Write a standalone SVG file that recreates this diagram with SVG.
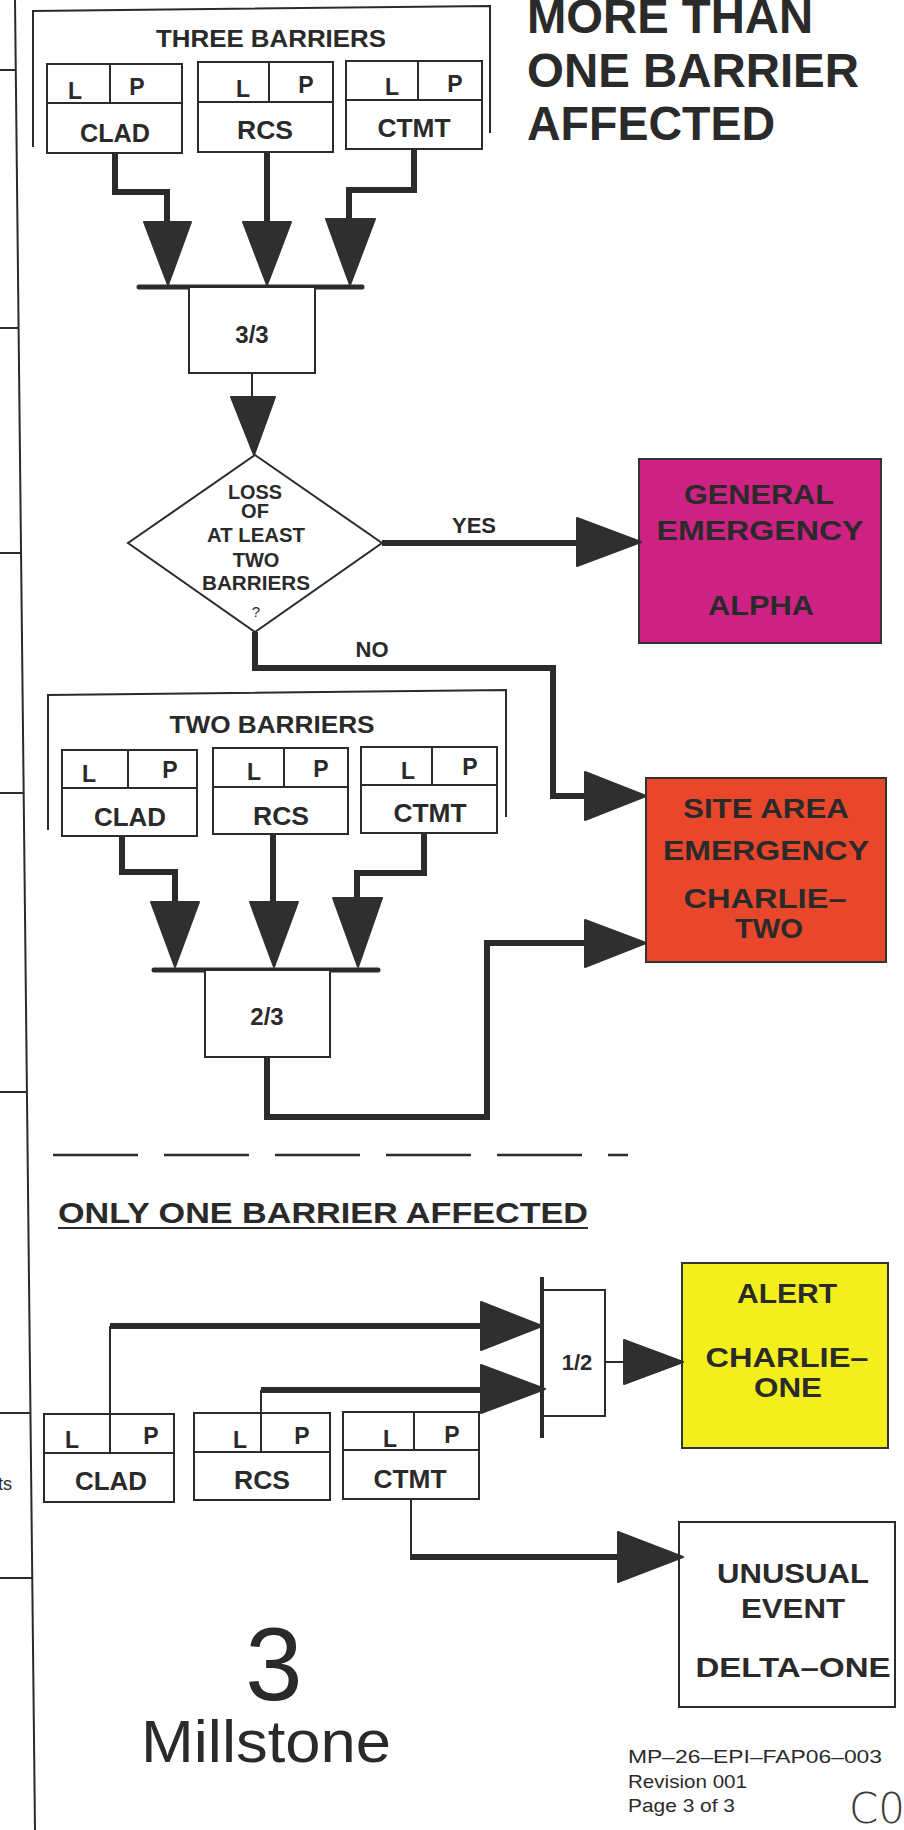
<svg xmlns="http://www.w3.org/2000/svg" width="904" height="1830" viewBox="0 0 904 1830">
<style>
.bg{fill:#ffffff}
.box{fill:#ffffff;stroke:#2b2b2b;stroke-width:2}
.ln{fill:none;stroke:#2b2b2b;stroke-width:2}
.thk{fill:none;stroke:#2b2b2b;stroke-width:6;stroke-linejoin:miter}
.bus{fill:none;stroke:#2b2b2b;stroke-width:5;stroke-linecap:round}
.ah{fill:#2f2f2f;stroke:#2f2f2f;stroke-width:2;stroke-linejoin:round}
.t{font-family:"Liberation Sans",Arial,sans-serif;font-weight:bold;fill:#2a2a2a;text-anchor:middle}
.r{font-family:"Liberation Sans",Arial,sans-serif;font-weight:normal;fill:#2a2a2a}
.ge{fill:#CD2283;stroke:#333;stroke-width:2}
.sae{fill:#E8472B;stroke:#333;stroke-width:2}
.al{fill:#F3EF1C;stroke:#333;stroke-width:2}
</style>
<rect class="bg" x="0" y="0" width="904" height="1830"/>

<g id="frame">
<line class="ln" x1="15" y1="0" x2="35" y2="1830"/>
<line class="ln" x1="0" y1="70" x2="16" y2="70"/>
<line class="ln" x1="0" y1="328" x2="19" y2="328"/>
<line class="ln" x1="0" y1="553" x2="21" y2="553"/>
<line class="ln" x1="0" y1="793" x2="24" y2="793"/>
<line class="ln" x1="0" y1="1092" x2="27" y2="1092"/>
<line class="ln" x1="0" y1="1413" x2="30" y2="1413"/>
<line class="ln" x1="0" y1="1578" x2="32" y2="1578"/>
<text class="r" x="-2" y="1490" font-size="18">ts</text>
</g>

<g id="title">
<text class="t" x="527" y="33" font-size="48" style="text-anchor:start" textLength="286" lengthAdjust="spacingAndGlyphs">MORE THAN</text>
<text class="t" x="527" y="87" font-size="48" style="text-anchor:start" textLength="332" lengthAdjust="spacingAndGlyphs">ONE BARRIER</text>
<text class="t" x="527" y="140" font-size="48" style="text-anchor:start" textLength="248" lengthAdjust="spacingAndGlyphs">AFFECTED</text>
</g>

<g id="three-barriers">
<polyline class="ln" points="33,147 33,11 490,6 490,133"/>
<text class="t" x="271" y="47" font-size="23" textLength="230" lengthAdjust="spacingAndGlyphs">THREE BARRIERS</text>
</g>
<g id="tb-clad">
<rect class="box" x="47" y="64" width="135" height="89"/>
<line class="ln" x1="47" y1="103" x2="182" y2="103"/>
<line class="ln" x1="110" y1="64" x2="110" y2="103"/>
<text class="t" x="75" y="99" font-size="23">L</text>
<text class="t" x="137" y="95" font-size="23">P</text>
<text class="t" x="115" y="142" font-size="25" textLength="70" lengthAdjust="spacingAndGlyphs">CLAD</text>
</g>
<g id="tb-rcs">
<rect class="box" x="198" y="62" width="135" height="90"/>
<line class="ln" x1="198" y1="102" x2="333" y2="102"/>
<line class="ln" x1="269" y1="62" x2="269" y2="102"/>
<text class="t" x="243" y="97" font-size="23">L</text>
<text class="t" x="306" y="93" font-size="23">P</text>
<text class="t" x="265" y="139" font-size="25" textLength="56" lengthAdjust="spacingAndGlyphs">RCS</text>
</g>
<g id="tb-ctmt">
<rect class="box" x="346" y="61" width="136" height="88"/>
<line class="ln" x1="346" y1="100" x2="482" y2="100"/>
<line class="ln" x1="418" y1="61" x2="418" y2="100"/>
<text class="t" x="392" y="95" font-size="23">L</text>
<text class="t" x="455" y="92" font-size="23">P</text>
<text class="t" x="414" y="137" font-size="25" textLength="73" lengthAdjust="spacingAndGlyphs">CTMT</text>
</g>
<g id="gate-33">
<line class="bus" x1="139" y1="287" x2="362" y2="287"/>
<rect class="box" x="189" y="287" width="126" height="86"/>
<text class="t" x="252" y="343" font-size="24">3/3</text>
</g>
<g id="decision">
<polygon class="box" points="255,455 382,543 255,632 128,543"/>
<text class="t" x="255" y="499" font-size="20" textLength="54" lengthAdjust="spacingAndGlyphs">LOSS</text>
<text class="t" x="255" y="518" font-size="20">OF</text>
<text class="t" x="256" y="542" font-size="20" textLength="98" lengthAdjust="spacingAndGlyphs">AT LEAST</text>
<text class="t" x="256" y="567" font-size="20">TWO</text>
<text class="t" x="256" y="590" font-size="20" textLength="108" lengthAdjust="spacingAndGlyphs">BARRIERS</text>
<text class="r" x="256" y="617" font-size="15" style="text-anchor:middle">?</text>
</g>
<g id="general-emergency">
<rect class="ge" x="639" y="459" width="242" height="184"/>
<text class="t" x="759" y="504" font-size="27" textLength="150" lengthAdjust="spacingAndGlyphs">GENERAL</text>
<text class="t" x="760" y="540" font-size="27" textLength="207" lengthAdjust="spacingAndGlyphs">EMERGENCY</text>
<text class="t" x="761" y="615" font-size="27" textLength="106" lengthAdjust="spacingAndGlyphs">ALPHA</text>
</g>
<g id="site-area-emergency">
<rect class="sae" x="646" y="778" width="240" height="184"/>
<text class="t" x="766" y="818" font-size="27" textLength="166" lengthAdjust="spacingAndGlyphs">SITE AREA</text>
<text class="t" x="766" y="860" font-size="27" textLength="206" lengthAdjust="spacingAndGlyphs">EMERGENCY</text>
<text class="t" x="765" y="908" font-size="27" textLength="163" lengthAdjust="spacingAndGlyphs">CHARLIE–</text>
<text class="t" x="769" y="938" font-size="27" textLength="68" lengthAdjust="spacingAndGlyphs">TWO</text>
</g>

<g id="two-barriers">
<polyline class="ln" points="48,830 48,695 506,690 506,817"/>
<text class="t" x="272" y="733" font-size="24" textLength="205" lengthAdjust="spacingAndGlyphs">TWO BARRIERS</text>
</g>
<g id="2b-clad">
<rect class="box" x="62" y="750" width="135" height="86"/>
<line class="ln" x1="62" y1="788" x2="197" y2="788"/>
<line class="ln" x1="128" y1="750" x2="128" y2="788"/>
<text class="t" x="89" y="782" font-size="23">L</text>
<text class="t" x="170" y="778" font-size="23">P</text>
<text class="t" x="130" y="826" font-size="25" textLength="72" lengthAdjust="spacingAndGlyphs">CLAD</text>
</g>
<g id="2b-rcs">
<rect class="box" x="213" y="748" width="135" height="86"/>
<line class="ln" x1="213" y1="787" x2="348" y2="787"/>
<line class="ln" x1="284" y1="748" x2="284" y2="787"/>
<text class="t" x="254" y="780" font-size="23">L</text>
<text class="t" x="321" y="777" font-size="23">P</text>
<text class="t" x="281" y="825" font-size="25" textLength="56" lengthAdjust="spacingAndGlyphs">RCS</text>
</g>
<g id="2b-ctmt">
<rect class="box" x="361" y="747" width="136" height="86"/>
<line class="ln" x1="361" y1="785" x2="497" y2="785"/>
<line class="ln" x1="432" y1="747" x2="432" y2="785"/>
<text class="t" x="408" y="779" font-size="23">L</text>
<text class="t" x="470" y="775" font-size="23">P</text>
<text class="t" x="430" y="822" font-size="25" textLength="73" lengthAdjust="spacingAndGlyphs">CTMT</text>
</g>
<g id="gate-23">
<line class="bus" x1="154" y1="970" x2="378" y2="970"/>
<rect class="box" x="205" y="970" width="125" height="87"/>
<text class="t" x="267" y="1025" font-size="24">2/3</text>
</g>

<g id="separator">
<line x1="53" y1="1155" x2="628" y2="1155" stroke="#2b2b2b" stroke-width="2.5" stroke-dasharray="85 26"/>
</g>
<g id="one-barrier-heading">
<text class="t" x="58" y="1223" font-size="30" style="text-anchor:start" textLength="530" lengthAdjust="spacingAndGlyphs">ONLY ONE BARRIER AFFECTED</text>
<line class="ln" x1="58" y1="1228" x2="588" y2="1228"/>
</g>
<g id="gate-12">
<line x1="542" y1="1277" x2="542" y2="1438" stroke="#2b2b2b" stroke-width="4"/>
<polyline class="ln" points="542,1290 605,1290 605,1416 542,1416"/>
<text class="t" x="577" y="1370" font-size="22">1/2</text>
</g>
<g id="alert">
<rect class="al" x="682" y="1263" width="206" height="185"/>
<text class="t" x="787" y="1303" font-size="27" textLength="100" lengthAdjust="spacingAndGlyphs">ALERT</text>
<text class="t" x="787" y="1367" font-size="27" textLength="163" lengthAdjust="spacingAndGlyphs">CHARLIE–</text>
<text class="t" x="788" y="1397" font-size="27" textLength="68" lengthAdjust="spacingAndGlyphs">ONE</text>
</g>
<g id="ob-clad">
<rect class="box" x="44" y="1414" width="130" height="88"/>
<line class="ln" x1="44" y1="1453" x2="174" y2="1453"/>
<line class="ln" x1="110" y1="1414" x2="110" y2="1453"/>
<text class="t" x="72" y="1448" font-size="23">L</text>
<text class="t" x="151" y="1444" font-size="23">P</text>
<text class="t" x="111" y="1490" font-size="25" textLength="72" lengthAdjust="spacingAndGlyphs">CLAD</text>
</g>
<g id="ob-rcs">
<rect class="box" x="194" y="1413" width="136" height="87"/>
<line class="ln" x1="194" y1="1452" x2="330" y2="1452"/>
<line class="ln" x1="261" y1="1413" x2="261" y2="1452"/>
<text class="t" x="240" y="1448" font-size="23">L</text>
<text class="t" x="302" y="1444" font-size="23">P</text>
<text class="t" x="262" y="1489" font-size="25" textLength="56" lengthAdjust="spacingAndGlyphs">RCS</text>
</g>
<g id="ob-ctmt">
<rect class="box" x="343" y="1412" width="136" height="87"/>
<line class="ln" x1="343" y1="1450" x2="479" y2="1450"/>
<line class="ln" x1="414" y1="1412" x2="414" y2="1450"/>
<text class="t" x="390" y="1447" font-size="23">L</text>
<text class="t" x="452" y="1443" font-size="23">P</text>
<text class="t" x="410" y="1488" font-size="25" textLength="73" lengthAdjust="spacingAndGlyphs">CTMT</text>
</g>
<g id="unusual-event">
<rect class="box" x="679" y="1522" width="216" height="185"/>
<text class="t" x="793" y="1583" font-size="27" textLength="152" lengthAdjust="spacingAndGlyphs">UNUSUAL</text>
<text class="t" x="793" y="1618" font-size="27" textLength="104" lengthAdjust="spacingAndGlyphs">EVENT</text>
<text class="t" x="793" y="1677" font-size="27" textLength="195" lengthAdjust="spacingAndGlyphs">DELTA–ONE</text>
</g>

<g id="connectors">
<path class="thk" d="M115,153 V192 H167 V226"/>
<path class="thk" d="M267,152 V226"/>
<path class="thk" d="M414,149 V190 H349 V222"/>
<polygon class="ah" points="144,222 191,222 168,285"/>
<polygon class="ah" points="243,222 291,222 267,285"/>
<polygon class="ah" points="326,219 375,219 350,285"/>
<line class="ln" x1="252" y1="373" x2="252" y2="400"/>
<polygon class="ah" points="231,397 275,397 254,455"/>
<path class="thk" d="M382,543 H580"/>
<polygon class="ah" points="577,518 577,566 641,542"/>
<text class="t" x="474" y="533" font-size="22">YES</text>
<path class="thk" d="M255,632 V668 H553 V796 H588"/>
<polygon class="ah" points="585,772 585,820 646,796"/>
<text class="t" x="372" y="657" font-size="22">NO</text>
<path class="thk" d="M122,836 V872 H175 V905"/>
<path class="thk" d="M273,834 V905"/>
<path class="thk" d="M424,833 V873 H357 V901"/>
<polygon class="ah" points="151,902 199,902 175,967"/>
<polygon class="ah" points="250,902 298,902 274,967"/>
<polygon class="ah" points="333,898 382,898 358,967"/>
<path class="thk" d="M267,1057 V1117 H487 V943 H588"/>
<polygon class="ah" points="585,920 585,967 646,943"/>
<path class="ln" d="M110,1414 V1326"/>
<path class="thk" d="M110,1326 H484"/>
<polygon class="ah" points="481,1302 481,1350 542,1326"/>
<path class="ln" d="M261,1413 V1390"/>
<path class="thk" d="M261,1390 H484"/>
<polygon class="ah" points="481,1365 481,1413 545,1389"/>
<line class="ln" x1="605" y1="1362" x2="626" y2="1362"/>
<polygon class="ah" points="624,1340 624,1384 683,1362"/>
<path class="ln" d="M411,1499 V1557"/>
<path class="thk" d="M410,1557 H622"/>
<polygon class="ah" points="618,1532 618,1582 683,1557"/>
</g>

<g id="footer">
<text class="r" x="274" y="1700" font-size="103" style="text-anchor:middle">3</text>
<text class="r" x="266" y="1762" font-size="60" style="text-anchor:middle" textLength="250" lengthAdjust="spacingAndGlyphs">Millstone</text>
<text class="r" x="628" y="1763" font-size="19" textLength="254" lengthAdjust="spacingAndGlyphs">MP–26–EPI–FAP06–003</text>
<text class="r" x="628" y="1788" font-size="19" textLength="119" lengthAdjust="spacingAndGlyphs">Revision 001</text>
<text class="r" x="628" y="1812" font-size="19" textLength="107" lengthAdjust="spacingAndGlyphs">Page 3 of 3</text>
<text x="849" y="1823" font-size="42" font-family="'DejaVu Sans',sans-serif" font-weight="200" fill="#3a3a3a">C0</text>
</g>
</svg>
